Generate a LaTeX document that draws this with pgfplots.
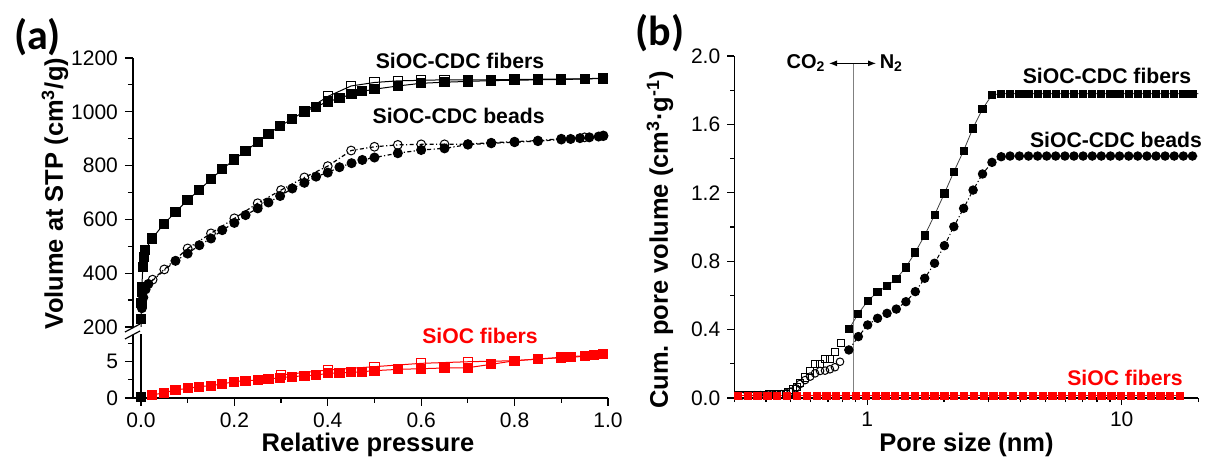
\documentclass[border=0pt]{standalone}
\usepackage{pgfplots}
\pgfplotsset{compat=1.18}
\usepackage{fontspec}
\setmainfont{Liberation Sans}
\newfontfamily\calib{Carlito}
\usetikzlibrary{arrows.meta}
\pgfplotsset{
  base/.style={
    scale only axis,
    anchor=south west,
    axis line style={line width=0.6pt},
    tick align=outside,
    tick style={line width=0.6pt, black},
    major tick length=3.5pt,
    minor tick length=2pt,
    tick label style={font=\fontsize{10.5}{12}\selectfont},
    /pgf/number format/assume math mode=true,
    /pgf/number format/1000 sep={},
  }
}
\begin{document}
\begin{tikzpicture}
\useasboundingbox (0,0) rectangle (608.5pt,230.5pt);
% ---------------- panel (a) upper ----------------
\begin{axis}[base, at={(66.5pt,67pt)}, width=237.5pt, height=134.5pt,
  xmin=-0.017, xmax=1.0, ymin=200, ymax=1200,
  axis x line=none, axis y line*=left,
  ytick={200,400,600,800,1000,1200}, minor ytick={300,500,700,900,1100},
  major tick length=4pt, minor tick length=2.5pt]
\addplot[black, line width=0.5pt] coordinates {(0,150) (0.0005,231)};
% fibers desorption
\addplot[black, line width=0.5pt, mark=square, mark size=2.3pt, mark options={fill=white, line width=0.5pt}] coordinates {
(0.99,1125) (0.95,1123) (0.9,1122) (0.85,1121) (0.8,1120) (0.75,1119) (0.7,1119) (0.65,1119) (0.6,1117) (0.55,1115) (0.5,1109) (0.45,1096) (0.4,1057) (0.35,1001)};
% fibers adsorption
\addplot[black, line width=0.5pt, mark=square*, mark size=2.3pt] coordinates {
(0.0005,231) (0.001,290) (0.0015,330) (0.002,349) (0.004,423) (0.006,461) (0.009,486) (0.024,529) (0.049,583) (0.074,627) (0.0998,672) (0.125,709) (0.150,750) (0.174,786) (0.2,823) (0.224,855) (0.25,887) (0.273,918) (0.298,947) (0.324,974) (0.35,1001) (0.375,1019) (0.4,1038) (0.425,1050) (0.451,1066) (0.474,1076) (0.5,1084) (0.55,1096) (0.6,1106) (0.65,1110) (0.7,1113) (0.75,1116) (0.8,1117) (0.85,1119) (0.9,1120) (0.95,1122) (0.99,1124)};
% beads desorption
\addplot[black, line width=0.6pt, dash pattern=on 2pt off 1.2pt on 0.6pt off 1.2pt, mark=o, mark size=2.2pt, mark options={solid, fill=white, line width=0.5pt}] coordinates {
(0.99,912) (0.95,905) (0.9,900) (0.85,893) (0.8,889) (0.75,885) (0.7,880) (0.65,879) (0.6,879) (0.55,877) (0.5,870) (0.45,856) (0.4,798) (0.35,756) (0.3,709) (0.25,660) (0.2,604) (0.15,548) (0.1,492) (0.05,414) (0.025,376)};
% beads adsorption
\addplot[black, line width=0.6pt, dash pattern=on 2pt off 1.2pt on 0.6pt off 1.2pt, mark=*, mark size=2.2pt, mark options={solid}] coordinates {
(0.002,270) (0.005,310) (0.01,340) (0.016,360) (0.074,446) (0.1,473) (0.125,504) (0.15,529) (0.174,560) (0.2,587) (0.224,616) (0.25,641) (0.273,663) (0.298,687) (0.324,715) (0.35,736) (0.375,759) (0.4,774) (0.425,794) (0.451,809) (0.474,821) (0.5,830) (0.55,846) (0.6,858) (0.65,864) (0.7,878) (0.75,883) (0.8,887) (0.85,891) (0.9,897) (0.92,899) (0.94,902) (0.96,905) (0.98,908) (0.99,910)};
\end{axis}
% ---------------- panel (a) lower ----------------
\begin{axis}[base, at={(66.5pt,31.5pt)}, width=237.5pt, height=31.5pt,
  xmin=-0.017, xmax=1.0, ymin=0, ymax=8.67,
  axis x line*=bottom, axis y line*=left,
  xtick={0,0.2,0.4,0.6,0.8,1}, minor xtick={0.1,0.3,0.5,0.7,0.9},
  ytick={0,5}, minor ytick={2.5,7.5},
  major tick length=4pt, minor tick length=2.5pt,
  xticklabel style={/pgf/number format/.cd, fixed, fixed zerofill, precision=1}]
\addplot[black, line width=0.6pt, mark=square*, mark size=2.3pt, mark repeat=2] coordinates {(0,0.1) (0,12)};
% SiOC fibers desorption
\addplot[red, line width=0.5pt, mark=square, mark size=2.3pt, mark options={fill=white, line width=0.5pt}] coordinates {
(0.99,6.0) (0.9,5.6) (0.8,5.13) (0.7,4.99) (0.6,4.77) (0.5,4.31) (0.4,3.85) (0.3,3.16)};
% SiOC fibers adsorption
\addplot[red, line width=0.5pt, mark=square*, mark size=2.3pt] coordinates {
(0.024,0.41) (0.05,0.73) (0.074,1.1) (0.1,1.33) (0.125,1.56) (0.15,1.7) (0.174,1.93) (0.2,2.25) (0.224,2.38) (0.25,2.48) (0.273,2.61) (0.298,2.8) (0.324,2.93) (0.35,3.07) (0.375,3.16) (0.4,3.39) (0.425,3.48) (0.45,3.53) (0.474,3.62) (0.5,3.76) (0.55,3.94) (0.6,4.03) (0.65,4.13) (0.7,4.17) (0.75,4.63) (0.8,5.13) (0.85,5.36) (0.9,5.54) (0.92,5.6) (0.95,5.74) (0.97,5.87) (0.99,6.01)};
\end{axis}
% break marks
\draw[line width=0.6pt] (62.5pt,64.5pt) -- (70pt,68.5pt);
\draw[line width=0.6pt] (62.5pt,61pt) -- (70pt,65pt);
% ---------------- panel (b) ----------------
\begin{axis}[base, at={(367.15pt,31.5pt)}, width=232pt, height=171pt,
  xmode=log, xmin=0.3, xmax=20, ymin=0, ymax=2,
  axis x line*=bottom, axis y line*=left,
  xtick={1,10}, xticklabels={1,10},
  minor xtick={0.3,0.4,0.5,0.6,0.7,0.8,0.9,2,3,4,5,6,7,8,9,20},
  ytick={0,0.4,0.8,1.2,1.6,2.0}, minor ytick={0.2,0.6,1.0,1.4,1.8},
  yticklabel style={/pgf/number format/.cd, fixed, fixed zerofill, precision=1}]
\draw[gray, line width=0.5pt] (axis cs:0.883,0) -- (axis cs:0.883,1.957);
\draw[black, line width=0.5pt, {Latex[length=4pt,width=3pt]}-{Latex[length=4pt,width=3pt]}] (axis cs:0.707,1.957) -- (axis cs:1.082,1.957);
% CO2 region open squares (fibers)
\addplot[black, only marks, mark=square, mark size=1.8pt, mark options={line width=0.5pt, fill=white}] coordinates {
(0.31,0.015) (0.33,0.016) (0.35,0.017) (0.37,0.018) (0.39,0.019) (0.41,0.02) (0.43,0.021) (0.45,0.022) (0.47,0.025) (0.49,0.032) (0.51,0.05) (0.53,0.065) (0.545,0.086) (0.57,0.12) (0.596,0.16) (0.623,0.197) (0.652,0.197) (0.682,0.228) (0.713,0.228) (0.746,0.267) (0.786,0.323)};
% CO2 region open circles (beads)
\addplot[black, only marks, mark=o, mark size=1.9pt, mark options={line width=0.5pt, fill=white}] coordinates {
(0.32,0.014) (0.34,0.015) (0.36,0.016) (0.38,0.017) (0.40,0.018) (0.42,0.019) (0.44,0.02) (0.46,0.022) (0.48,0.027) (0.50,0.037) (0.523,0.057) (0.544,0.082) (0.57,0.105) (0.596,0.125) (0.623,0.144) (0.652,0.158) (0.682,0.16) (0.713,0.168) (0.746,0.18) (0.781,0.212)};
% fibers N2
\addplot[black!75, line width=0.4pt, mark=square*, mark size=1.8pt, mark options={black}] coordinates {
(0.846,0.402) (0.921,0.493) (1.003,0.567) (1.096,0.620) (1.194,0.655) (1.30,0.696) (1.416,0.764) (1.543,0.852) (1.68,0.951) (1.838,1.070) (2.01,1.197) (2.19,1.324) (2.39,1.446) (2.60,1.577) (2.835,1.690) (3.09,1.772) (3.36,1.78) (3.64,1.78) (3.96,1.78) (4.30,1.78) (4.67,1.78) (5.07,1.78) (5.50,1.78) (5.98,1.78) (6.49,1.78) (7.05,1.78) (7.66,1.78) (8.31,1.78) (9.03,1.78) (9.80,1.78) (10.65,1.78) (11.56,1.78) (12.56,1.78) (13.64,1.78) (14.81,1.78) (16.08,1.78) (17.47,1.78) (18.97,1.78) (20.6,1.78)};
% beads N2
\addplot[black, line width=0.5pt, dash pattern=on 2pt off 1.2pt on 0.6pt off 1.2pt, mark=*, mark size=2.1pt, mark options={solid}] coordinates {
(0.846,0.281) (0.922,0.359) (1.003,0.427) (1.097,0.466) (1.195,0.495) (1.30,0.52) (1.418,0.563) (1.544,0.622) (1.681,0.70) (1.838,0.788) (2.009,0.891) (2.188,1.002) (2.391,1.109) (2.605,1.216) (2.837,1.31) (3.09,1.378) (3.36,1.411) (3.64,1.415) (3.96,1.415) (4.30,1.415) (4.67,1.415) (5.07,1.415) (5.50,1.415) (5.98,1.415) (6.49,1.415) (7.05,1.415) (7.66,1.415) (8.31,1.415) (9.03,1.415) (9.80,1.415) (10.65,1.415) (11.56,1.415) (12.56,1.415) (13.64,1.415) (14.81,1.415) (16.08,1.415) (17.47,1.415) (18.97,1.415) (20.6,1.415)};
% SiOC fibers (red)
\addplot[red, line width=0.5pt, mark=square*, mark size=1.8pt] coordinates {
(0.31,0.012) (0.339,0.012) (0.37,0.012) (0.405,0.012) (0.443,0.012) (0.484,0.012) (0.529,0.012) (0.578,0.012) (0.632,0.012) (0.691,0.012) (0.755,0.012) (0.825,0.012) (0.902,0.012) (0.986,0.012) (1.078,0.012) (1.178,0.012) (1.288,0.012) (1.407,0.012) (1.538,0.012) (1.681,0.012) (1.838,0.012) (2.009,0.012) (2.195,0.012) (2.4,0.012) (2.623,0.012) (2.867,0.012) (3.133,0.012) (3.425,0.012) (3.743,0.012) (4.091,0.012) (4.472,0.012) (4.888,0.012) (5.342,0.012) (5.839,0.012) (6.382,0.012) (6.976,0.012) (7.624,0.012) (8.333,0.012) (9.108,0.012) (9.955,0.012) (10.88,0.012) (11.89,0.012) (13.0,0.012) (14.21,0.012) (15.53,0.012) (16.97,0.012)};
\coordinate (arrL) at (axis cs:0.70,1.957);
\coordinate (arrR) at (axis cs:1.095,1.957);
\end{axis}
% ---------------- text ----------------
\node[font=\calib\bfseries\fontsize{21}{24}\selectfont] at (18.75pt,212pt) {(a)};
\node[font=\calib\bfseries\fontsize{21}{24}\selectfont] at (330pt,214pt) {(b)};
\node[font=\bfseries\fontsize{12.75}{14}\selectfont, rotate=90] at (27.5pt,133.75pt) {Volume at STP (cm\textsuperscript{3}/g)};
\node[font=\bfseries\fontsize{12.75}{14}\selectfont, anchor=base] at (184pt,5pt) {Relative pressure};
\node[font=\bfseries\fontsize{12.75}{14}\selectfont, rotate=90] at (330pt,110.5pt) {Cum. pore volume (cm\textsuperscript{3}·g\textsuperscript{-1})};
\node[font=\bfseries\fontsize{12.75}{14}\selectfont, anchor=base] at (483.25pt,5pt) {Pore size (nm)};
\node[font=\bfseries\fontsize{10.6}{12}\selectfont] at (230pt,200pt) {SiOC-CDC fibers};
\node[font=\bfseries\fontsize{10.6}{12}\selectfont] at (229.3pt,172.5pt) {SiOC-CDC beads};
\node[font=\bfseries\fontsize{10.6}{12}\selectfont, text=red] at (240pt,62.5pt) {SiOC fibers};
\node[font=\bfseries\fontsize{10.6}{12}\selectfont] at (553.5pt,192.5pt) {SiOC-CDC fibers};
\node[font=\bfseries\fontsize{10.6}{12}\selectfont] at (558pt,160.5pt) {SiOC-CDC beads};
\node[font=\bfseries\fontsize{10.6}{12}\selectfont, text=red] at (562.5pt,41.5pt) {SiOC fibers};
\node[font=\bfseries\fontsize{10}{12}\selectfont, anchor=east, inner sep=1pt] at (arrL) {CO\textsubscript{2}};
\node[font=\bfseries\fontsize{10}{12}\selectfont, anchor=west, inner sep=1pt] at (arrR) {N\textsubscript{2}};
\end{tikzpicture}
\end{document}
